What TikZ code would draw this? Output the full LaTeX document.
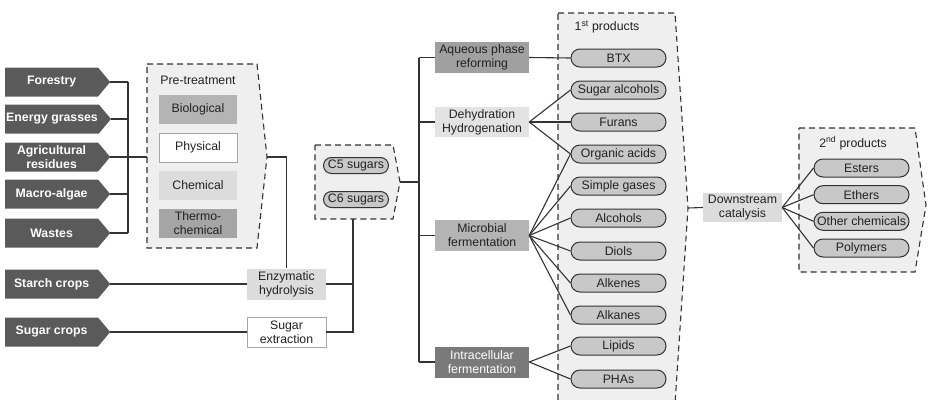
\documentclass[tikz,border=0pt]{standalone}
\usepackage{fontspec}
\setmainfont{Liberation Sans}
\usetikzlibrary{shapes.symbols, shapes.misc}
\definecolor{feedgray}{HTML}{5A5A5A}
\definecolor{boxfill}{HTML}{EFEFEF}
\definecolor{linegray}{HTML}{333333}
\definecolor{pillfill}{HTML}{C8C8C8}
\definecolor{midgray}{HTML}{B4B4B4}
\definecolor{lightgray}{HTML}{DCDCDC}
\definecolor{darkgray}{HTML}{A0A0A0}
\definecolor{deepgray}{HTML}{7A7A7A}
\definecolor{txt}{HTML}{222222}

\tikzset{
  link/.style={draw=linegray, line width=1.1pt},
  container/.style={draw=linegray, fill=boxfill, line width=1.1pt, dash pattern=on 6pt off 4pt},
  feedstock/.style={signal, signal to=east, signal pointer angle=100, fill=feedgray,
    text=white, font=\fontsize{12.3}{14}\selectfont\bfseries, align=center,
    minimum width=105pt, minimum height=29pt, inner sep=1pt},
  procbox/.style={rectangle, align=center, text=txt, inner sep=1pt},
  pill/.style={rounded rectangle, draw=linegray, fill=pillfill, line width=1pt,
    text=txt, inner sep=1pt, minimum width=97pt, minimum height=18pt},
}

\begin{document}
\begin{tikzpicture}[x=1pt, y=-1pt, font=\fontsize{12.3}{14}\selectfont]
\useasboundingbox (0,0) rectangle (928,399);

% feedstocks
\foreach \n/\y/\lab in {forestry/82/Forestry, grasses/119/Energy grasses,
    residues/157/{Agricultural\\residues}, algae/194/Macro-algae, wastes/233/Wastes,
    starch/284/Starch crops, sugarcrops/332/Sugar crops}
  \node[feedstock, anchor=west] (\n) at (5,\y) {\lab};

% pre-treatment container
\draw[container] (147,64) -- (257,64) -- (267,157) -- (257,248) -- (147,248) -- cycle;
\coordinate (prein) at (147,157);
\coordinate (preout) at (267,157);
\node[text=txt] (pretitle) at (198,80) {Pre-treatment};
\node[procbox, fill=midgray, minimum width=78pt, minimum height=29pt] (bio) at (198,109.5) {Biological};
\node[procbox, fill=white, draw=gray!70, minimum width=78pt, minimum height=29pt] (phys) at (198,147.5) {Physical};
\node[procbox, fill=lightgray, minimum width=78pt, minimum height=29pt] (chem) at (198,185) {Chemical};
\node[procbox, fill=darkgray!95, minimum width=78pt, minimum height=29pt] (thermo) at (198,223) {Thermo-\\chemical};

% feedstock bus
\coordinate (feedbus) at (128,157);
\foreach \n in {forestry,grasses,residues,algae,wastes}
  \draw[link] (\n.east) -- (\n.east -| feedbus);
\draw[link] (forestry.east -| feedbus) -- (wastes.east -| feedbus);
\draw[link] (feedbus) -- (prein);

% starch and sugar routes
\node[procbox, fill=lightgray, minimum width=79pt, minimum height=31pt] (enzym) at (286.5,284) {Enzymatic\\hydrolysis};
\node[procbox, fill=white, draw=gray!70, minimum width=79pt, minimum height=30pt] (sugext) at (286.5,332) {Sugar\\extraction};
\draw[link] (preout) -| (enzym.north);
\draw[link] (starch.east) -- (enzym.west);
\draw[link] (sugarcrops.east) -- (sugext.west);

% sugars container
\draw[container] (315,145) -- (393,145) -- (400,182) -- (393,219) -- (315,219) -- cycle;
\coordinate (cin) at (353,219);
\coordinate (cout) at (400,182);
\node[pill, minimum width=67pt, minimum height=16pt] (c5) at (356,165.5) {C5 sugars};
\node[pill, minimum width=67pt, minimum height=16pt] (c6) at (356,199.5) {C6 sugars};
\draw[link] (enzym.east) -- (enzym.east -| cin);
\draw[link] (sugext.east) -| (cin);

% conversion routes
\node[procbox, fill=darkgray, minimum width=94pt, minimum height=31pt] (aqueous) at (482,57.5) {Aqueous phase\\reforming};
\node[procbox, fill=lightgray!80, minimum width=94pt, minimum height=30pt] (dehyd) at (482,122) {Dehydration\\Hydrogenation};
\node[procbox, fill=midgray, minimum width=94pt, minimum height=31pt] (microb) at (482,235.5) {Microbial\\fermentation};
\node[procbox, fill=deepgray, text=white, minimum width=94pt, minimum height=31pt] (intra) at (482,362) {Intracellular\\fermentation};
\coordinate (procbus) at (419,182);
\draw[link] (cout) -- (procbus);
\draw[link] (aqueous.west -| procbus) -- (intra.west -| procbus);
\foreach \n in {aqueous,dehyd,microb,intra}
  \draw[link] (\n.west -| procbus) -- (\n.west);

% first products container
\draw[container] (558,13) -- (675,13) -- (688,208) -- (675,404) -- (558,404) -- cycle;
\coordinate (firstout) at (688,208);
\node[text=txt] (firsttitle) at (607,27) {1\textsuperscript{st} products};
\foreach \n/\y/\lab in {btx/58/BTX, sugalc/90/Sugar alcohols, furans/122/Furans,
    orgacids/154/Organic acids, gases/186/Simple gases, alcohols/218/Alcohols,
    diols/251/Diols, alkenes/283/Alkenes, alkanes/315/Alkanes,
    lipids/346/Lipids, phas/379/PHAs}
  \node[pill] (\n) at (618.5,\y) {\lab};

\draw[link] (aqueous.east) -- (btx.west);
\foreach \n in {sugalc,furans,orgacids}
  \draw[link] (dehyd.east) -- (\n.west);
\foreach \n in {orgacids,gases,alcohols,diols,alkenes,alkanes}
  \draw[link] (microb.east) -- (\n.west);
\foreach \n in {lipids,phas}
  \draw[link] (intra.east) -- (\n.west);

% second products container
\draw[container] (799,128) -- (915,128) -- (926,205) -- (915,272) -- (799,272) -- cycle;
\node[text=txt] (secondtitle) at (853,143) {2\textsuperscript{nd} products};
\foreach \n/\y/\lab in {esters/168/Esters, ethers/194.7/Ethers,
    otherchem/221.3/Other chemicals, polymers/248/Polymers}
  \node[pill] (\n) at (861.5,\y) {\lab};

\node[procbox, fill=lightgray, minimum width=79pt, minimum height=29pt] (downcat) at (742.5,207.5) {Downstream\\catalysis};
\draw[link] (firstout) -- (downcat.west);
\foreach \n in {esters,ethers,otherchem,polymers}
  \draw[link] (downcat.east) -- (\n.west);
\end{tikzpicture}
\end{document}
